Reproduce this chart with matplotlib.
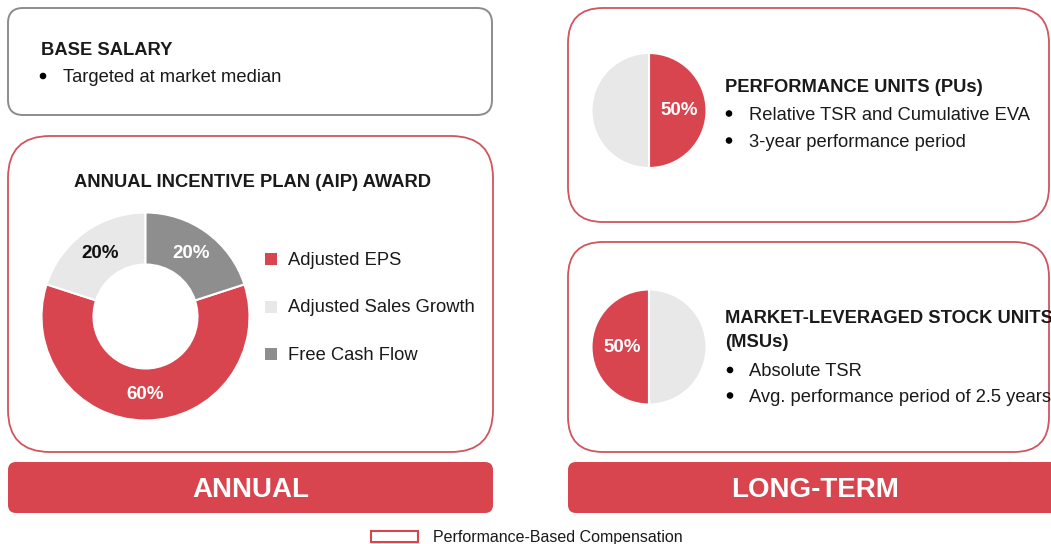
import matplotlib
matplotlib.use('Agg')
import matplotlib.pyplot as plt
from matplotlib.patches import FancyBboxPatch, Rectangle, Circle

plt.rcParams['font.family'] = ['Liberation Sans', 'DejaVu Sans']

W, H, DPI = 1051, 544, 100

RED = '#d8454f'
LIGHT = '#e8e8e8'
DARK = '#8e8e8e'
BORDER_RED = '#d0555e'
BORDER_GRAY = '#8c8c8c'
TXT = '#1a1a1a'

# ---------------- data ----------------
aip_labels = ['Adjusted EPS', 'Adjusted Sales Growth', 'Free Cash Flow']
aip_values = [60, 20, 20]
aip_colors = [RED, LIGHT, DARK]
aip_pct_colors = ['white', '#111111', 'white']

pu_values = [50, 50]    # performance units share, remainder
msu_values = [50, 50]   # market-leveraged stock units share, remainder

base_title = 'BASE SALARY'
base_bullets = ['Targeted at market median']
aip_title = 'ANNUAL INCENTIVE PLAN (AIP) AWARD'
pu_title = 'PERFORMANCE UNITS (PUs)'
pu_bullets = ['Relative TSR and Cumulative EVA', '3-year performance period']
msu_title = ['MARKET-LEVERAGED STOCK UNITS', '(MSUs)']
msu_bullets = ['Absolute TSR', 'Avg. performance period of 2.5 years']
bar_labels = ['ANNUAL', 'LONG-TERM']
legend_label = 'Performance-Based Compensation'

# ---------------- figure ----------------
fig = plt.figure(figsize=(W / DPI, H / DPI), dpi=DPI)
fig.patch.set_facecolor('white')
ax = fig.add_axes([0, 0, 1, 1])
ax.set_xlim(0, W)
ax.set_ylim(H, 0)
ax.axis('off')

FS = 13.2


def rbox(x0, y0, x1, y1, r, ec='none', fc='none', lw=1.3):
    p = FancyBboxPatch((x0, y0), x1 - x0, y1 - y0,
                       boxstyle=f'round,pad=0,rounding_size={r}',
                       ec=ec, fc=fc, lw=lw)
    ax.add_patch(p)


def bullet(x, y):
    ax.add_patch(Circle((x, y), 3.3, fc='black', ec='none'))


def pie_axes(cx, cy, r, pad=1.04):
    s = r * pad
    pax = fig.add_axes([(cx - s) / W, 1 - (cy + s) / H, 2 * s / W, 2 * s / H])
    return pax, pad


# Boxes
rbox(8, 8, 492, 115, 15, ec=BORDER_GRAY, lw=1.4)
rbox(8, 136, 493, 452, 42, ec=BORDER_RED)
rbox(568, 8, 1049, 222, 35, ec=BORDER_RED)
rbox(568, 242, 1049, 452, 35, ec=BORDER_RED)

# Bottom bars
rbox(8, 462, 493, 513, 8, fc=RED)
rbox(568, 462, 1062, 513, 8, fc=RED)
ax.text((8 + 493) / 2, 497, bar_labels[0], color='white', fontsize=20,
        fontweight='bold', ha='center', va='baseline')
ax.text((568 + 1062) / 2, 497, bar_labels[1], color='white', fontsize=20,
        fontweight='bold', ha='center', va='baseline')

# Base salary
ax.text(41, 55, base_title, fontsize=FS, fontweight='bold', color=TXT, va='baseline')
for i, b in enumerate(base_bullets):
    bullet(43, 76 + i * 27)
    ax.text(63, 82 + i * 27, b, fontsize=FS, color=TXT, va='baseline')

# AIP title
ax.text(252, 187, aip_title, fontsize=FS, fontweight='bold', color=TXT,
        ha='center', va='baseline')

# AIP legend
for i, (lab, col) in enumerate(zip(aip_labels, aip_colors)):
    yb = 265 + i * 47.5
    ax.add_patch(Rectangle((265, yb - 12), 12, 12, fc=col, ec='none'))
    ax.text(288, yb, lab, fontsize=FS, color=TXT, va='baseline')

# AIP donut
pax, pad = pie_axes(145.5, 316.5, 104)
start = 90 - 360 * aip_values[2] / sum(aip_values)
wedges, _, autos = pax.pie(aip_values, colors=aip_colors, startangle=start,
                           counterclock=False, radius=1,
                           autopct=lambda p: f'{p:.0f}%', pctdistance=0.75,
                           wedgeprops=dict(width=0.5, edgecolor='white', linewidth=1.5))
for t, c in zip(autos, aip_pct_colors):
    t.set_color(c)
    t.set_fontsize(13.5)
    t.set_fontweight('bold')
pax.set_xlim(-pad, pad)
pax.set_ylim(-pad, pad)
pax.set_aspect('equal')
pax.axis('off')

# PU pie
pax, pad = pie_axes(649, 110.5, 57.5)
_, _, autos = pax.pie(pu_values, colors=[RED, LIGHT], startangle=90,
                      counterclock=False, radius=1,
                      autopct=lambda p: f'{p:.0f}%', pctdistance=0.52,
                      wedgeprops=dict(edgecolor='white', linewidth=1.5))
autos[0].set_color('white'); autos[0].set_fontsize(13.5); autos[0].set_fontweight('bold')
autos[1].set_visible(False)
pax.set_xlim(-pad, pad); pax.set_ylim(-pad, pad); pax.set_aspect('equal'); pax.axis('off')

# MSU pie
pax, pad = pie_axes(649, 347, 57.5)
_, _, autos = pax.pie(msu_values, colors=[RED, LIGHT], startangle=90,
                      counterclock=True, radius=1,
                      autopct=lambda p: f'{p:.0f}%', pctdistance=0.47,
                      wedgeprops=dict(edgecolor='white', linewidth=1.5))
autos[0].set_color('white'); autos[0].set_fontsize(13.5); autos[0].set_fontweight('bold')
autos[1].set_visible(False)
pax.set_xlim(-pad, pad); pax.set_ylim(-pad, pad); pax.set_aspect('equal'); pax.axis('off')

# PU text
ax.text(725, 92, pu_title, fontsize=FS, fontweight='bold', color=TXT, va='baseline')
for i, b in enumerate(pu_bullets):
    bullet(729, 113.5 + i * 27)
    ax.text(749, 120 + i * 27, b, fontsize=FS, color=TXT, va='baseline')

# MSU text
for i, line in enumerate(msu_title):
    ax.text(725, 323 + i * 24, line, fontsize=FS, fontweight='bold', color=TXT,
            va='baseline')
for i, b in enumerate(msu_bullets):
    bullet(730, 370 + i * 25.5)
    ax.text(749, 376 + i * 25.5, b, fontsize=FS, color=TXT, va='baseline')

# Legend
ax.add_patch(Rectangle((371, 531), 47, 11, fc='white', ec=RED, lw=1.5))
ax.text(433, 542, legend_label, fontsize=11.5, color=TXT, va='baseline')

fig.savefig('out.png', dpi=DPI, facecolor='white')
